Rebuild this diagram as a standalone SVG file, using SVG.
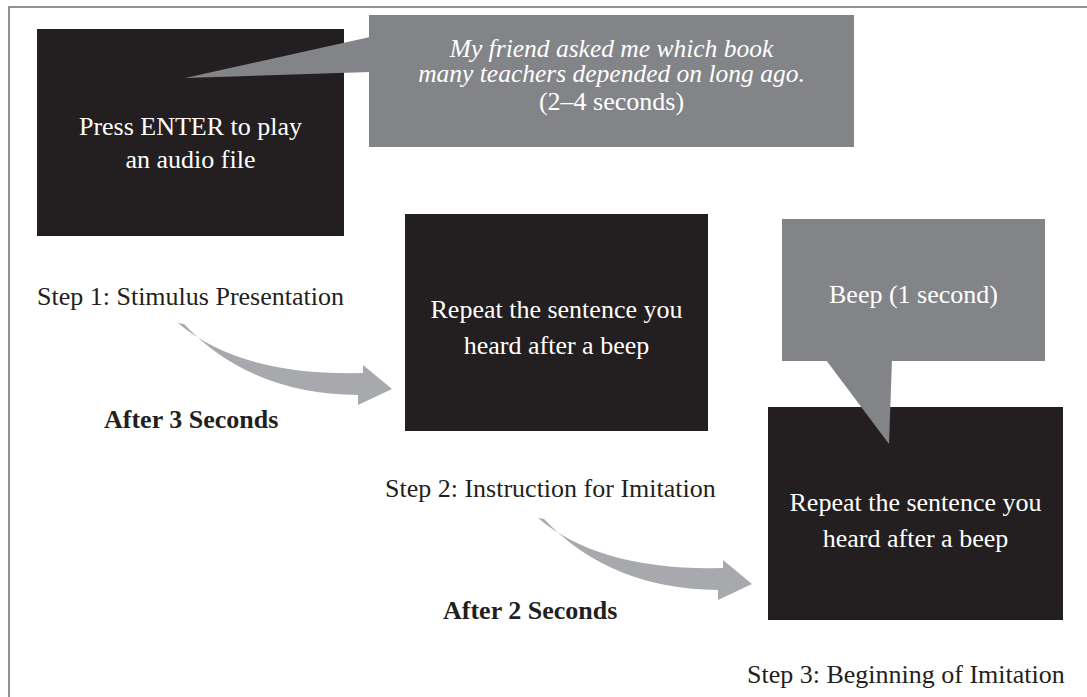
<svg xmlns="http://www.w3.org/2000/svg" width="1087" height="697" viewBox="0 0 1087 697">
  <style>
    .blk { fill: #231f20; }
    .bub { fill: #838488; }
    .arr { fill: #a7a9ac; }
    text { font-family: "Liberation Serif", "Times New Roman", serif; font-size: 26px; }
    .w { fill: #ffffff; text-anchor: middle; }
    .k { fill: #231f20; }
    .b { font-weight: bold; }
    .i { font-style: italic; font-size: 25.5px; }
  </style>
  <defs>
    <path id="curvedArrow" d="M 178 323 Q 240 376 363 373 L 363 365 L 392 389 L 358 405 L 358 395 Q 250 394 184 324 Z"/>
  </defs>
  <rect x="0" y="0" width="1087" height="697" fill="#ffffff"/>
  <path d="M 9 697 V 7 H 1087" fill="none" stroke="#6d6e71" stroke-width="1.5"/>

  <g id="step1">
    <rect class="blk" x="37" y="29" width="307" height="207"/>
    <text class="w" x="190.5" y="135">Press ENTER to play</text>
    <text class="w" x="190.5" y="168">an audio file</text>
    <text class="k" x="37" y="305">Step 1: Stimulus Presentation</text>
  </g>

  <g id="bubble1">
    <rect class="bub" x="369" y="15" width="485" height="132"/>
    <polygon class="bub" points="370,37 185,78 370,72"/>
    <text class="w i" x="611.5" y="57">My friend asked me which book</text>
    <text class="w i" x="611.5" y="82">many teachers depended on long ago.</text>
    <text class="w" x="611.5" y="110">(2–4 seconds)</text>
  </g>

  <g id="step2">
    <rect class="blk" x="405" y="214" width="303" height="217"/>
    <text class="w" x="556.5" y="318">Repeat the sentence you</text>
    <text class="w" x="556.5" y="354">heard after a beep</text>
    <text class="k" x="385" y="497">Step 2: Instruction for Imitation</text>
  </g>

  <g id="step3">
    <rect class="blk" x="768" y="407" width="295" height="213"/>
    <text class="w" x="915.5" y="511">Repeat the sentence you</text>
    <text class="w" x="915.5" y="547">heard after a beep</text>
    <text class="k" x="747" y="683">Step 3: Beginning of Imitation</text>
  </g>

  <g id="bubble2">
    <rect class="bub" x="782" y="219" width="263" height="142"/>
    <polygon class="bub" points="826,360 892,360 889,444"/>
    <text class="w" x="913.5" y="303">Beep (1 second)</text>
  </g>

  <g id="connectors">
    <use href="#curvedArrow" class="arr"/>
    <use href="#curvedArrow" class="arr" transform="translate(360,195)"/>
    <text class="k b" x="104" y="428">After 3 Seconds</text>
    <text class="k b" x="443" y="619">After 2 Seconds</text>
  </g>
</svg>
